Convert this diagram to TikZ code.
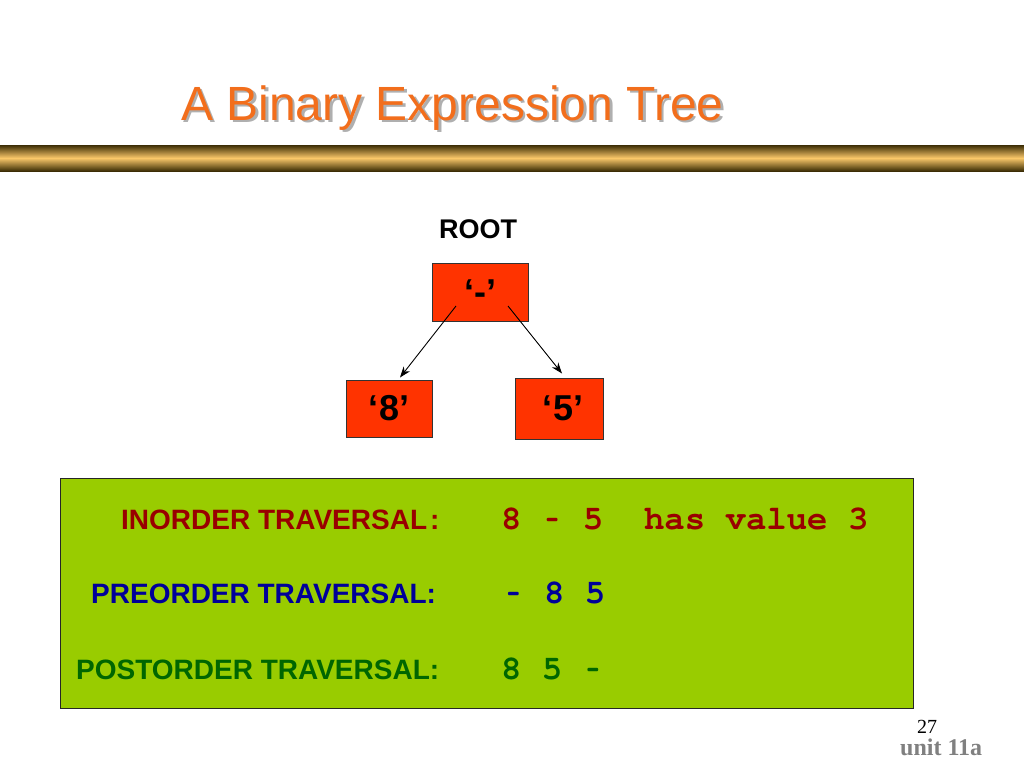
\documentclass[tikz,border=0pt]{standalone}
\usepackage{fontspec}
\setmainfont{Liberation Sans}
\newfontfamily\monof{texgyrecursor}[Extension=.otf, UprightFont=*-regular, BoldFont=*-bold]
\newfontfamily\seriff{Liberation Serif}
\usetikzlibrary{arrows.meta,calc}
\definecolor{titleorange}{RGB}{242,110,28}
\definecolor{titleshadow}{RGB}{175,175,175}
\definecolor{bardark}{RGB}{60,45,5}
\definecolor{barlight}{RGB}{250,200,105}
\definecolor{boxred}{RGB}{255,51,0}
\definecolor{panelgreen}{RGB}{153,204,0}
\definecolor{inred}{RGB}{153,0,0}
\definecolor{preblue}{RGB}{0,0,153}
\definecolor{postgreen}{RGB}{0,102,0}
\definecolor{unitgray}{RGB}{128,128,128}
\newcommand{\titletext}{A Binary Expression Tree}
\newcommand{\hy}{\makebox[0.6em][c]{\scalebox{0.62}[1]{-}}}
\tikzset{
  treebox/.style={draw=black!80, line width=1pt, fill=boxred, inner sep=0pt,
    font=\fontsize{36}{40}\selectfont\bfseries},
  label/.style={anchor=base west, inner sep=0pt, font=\fontsize{28}{30}\selectfont\bfseries},
  value/.style={anchor=base west, inner sep=0pt, font=\fontsize{34}{36}\selectfont\monof\bfseries},
  edge/.style={line width=0.9pt, -{Stealth[length=11pt,width=8pt,inset=3.5pt]}}
}
\begin{document}
\begin{tikzpicture}[x=1pt,y=-1pt]
\useasboundingbox (0,0) rectangle (1024,768);
\fill[white] (0,0) rectangle (1024,768);
% title with shadow
\node[anchor=base west, inner sep=0pt, font=\fontsize{48}{48}\selectfont] (title) at (181,120)
  {\makebox[0pt][l]{\hspace{2.5pt}\raisebox{-2.5pt}{\color{titleshadow}\titletext}}\textcolor{titleorange}{\titletext}};
% bar
\shade[top color=bardark, bottom color=barlight] (0,145) rectangle (1024,158);
\shade[top color=barlight, bottom color=bardark] (0,158) rectangle (1024,171);
% tree
\node[anchor=base, inner sep=0pt, font=\fontsize{27}{27}\selectfont\bfseries] (rootlabel) at (478,238) {ROOT};
\node[treebox, minimum width=96pt, minimum height=58pt] (root) at (480,292) {‘-’};
\node[treebox, minimum width=86pt, minimum height=57pt] (left) at (389,408.5) {‘8’};
\node[treebox, minimum width=88pt, minimum height=61pt, text width=88pt, align=center] (right) at (559,408.5) {\hspace*{8pt}‘5’};
\coordinate (ls) at ($(root.center)+(-24,14)$);
\coordinate (le) at ($(left.north)+(11,-2)$);
\coordinate (rs) at ($(root.center)+(28,14)$);
\coordinate (re) at ($(right.north)+(3,-4)$);
\draw[edge] (ls) -- (le);
\draw[edge] (rs) -- (re);
% panel
\draw[fill=panelgreen, draw=black!85, line width=1pt] (60,478) rectangle (913,708);
\node[label, text=inred] (inlab) at (121,529) {INORDER TRAVERSAL\hspace{3pt}:};
\node[value, text=inred] (inval) at (501,529) {8 \hy{} 5\ \ has value 3};
\node[label, text=preblue] (prelab) at (91,603) {PREORDER TRAVERSAL:};
\node[value, text=preblue] (preval) at (503,603) {\hy{} 8 5};
\node[label, text=postgreen] (postlab) at (76,679) {POSTORDER TRAVERSAL:};
\node[value, text=postgreen] (postval) at (501,679) {8 5 \hy};
% footer
\node[anchor=base west, inner sep=0pt, font=\fontsize{20}{20}\selectfont\seriff] (pagenum) at (917,733) {27};
\node[anchor=base west, inner sep=0pt, text=unitgray, font=\fontsize{24}{24}\selectfont\seriff\bfseries] (unit) at (900,755) {unit 11a};
\end{tikzpicture}
\end{document}
